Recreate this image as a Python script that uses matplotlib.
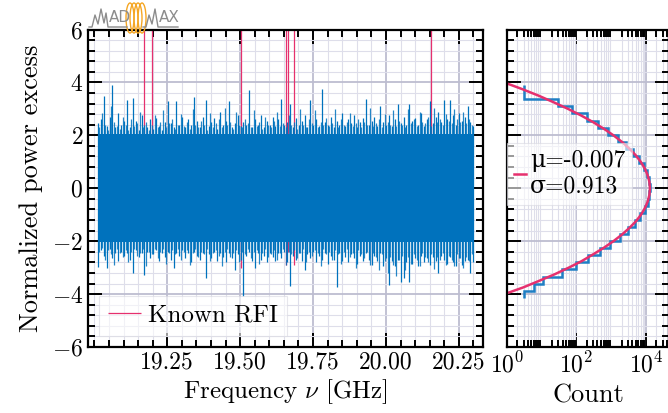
import numpy as np
import matplotlib
matplotlib.use("Agg")
import matplotlib.pyplot as plt
from matplotlib.ticker import MultipleLocator, AutoMinorLocator, LogLocator, FixedLocator, NullFormatter
from matplotlib.patches import Ellipse
from matplotlib.lines import Line2D

plt.rcParams['font.family'] = ['cmr10', 'DejaVu Serif']
plt.rcParams['mathtext.fontset'] = 'cm'
plt.rcParams['axes.formatter.use_mathtext'] = True
plt.rcParams['font.size'] = 17

BLUE = '#0072BD'
PINK = '#E6306E'

# --- data ---
freq_start, freq_stop = 19.012, 20.300
# upper / lower extremes of the noise trace, one value per ~0.01 GHz
upper = [2.45, 2.6, 3.5, 2.35, 2.7, 3.9, 2.3, 2.85, 2.4, 2.55,
         3.33, 2.3, 3.4, 2.55, 2.2, 2.75, 2.4, 2.3, 2.6, 2.25,
         2.65, 2.35, 2.2, 2.5, 3.3, 2.45, 2.3, 3.3, 2.4, 2.7,
         2.3, 2.6, 2.4, 3.45, 2.55, 2.3, 2.7, 3.35, 2.35, 2.5,
         2.65, 2.25, 2.9, 2.4, 2.55, 3.28, 2.3, 2.45, 2.75, 2.35,
         2.5, 2.4, 3.7, 2.3, 2.6, 2.4, 2.75, 2.3, 2.55, 2.4,
         2.7, 2.35, 2.6, 3.37, 2.4, 2.5, 3.18, 2.3, 2.65, 2.4,
         2.55, 2.75, 2.3, 3.33, 2.4, 2.6, 2.35, 3.75, 2.5, 2.4,
         2.7, 2.3, 2.55, 2.4, 2.85, 2.35, 2.6, 2.45, 2.75, 2.3,
         2.5, 2.65, 3.38, 2.4, 2.55, 2.7, 2.35, 3.1, 2.5, 2.4,
         2.75, 2.35, 2.6, 3.2, 2.45, 2.7, 2.4, 3.2, 2.55, 2.65,
         2.4, 2.85, 2.35, 2.6, 3.3, 2.45, 2.7, 2.9, 2.5, 3.35,
         2.6, 3.33, 2.75, 2.4, 2.85, 2.55, 2.7, 3.1, 2.5, 2.35]
lower = [-2.96, -2.35, -2.55, -3.0, -2.3, -2.65, -2.45, -2.75, -2.4, -2.55,
         -2.45, -2.7, -3.2, -2.35, -2.6, -2.45, -3.28, -2.4, -2.65, -2.5,
         -2.35, -2.75, -2.45, -2.6, -2.4, -2.7, -3.0, -2.45, -2.55, -2.35,
         -2.65, -2.45, -2.8, -2.4, -2.55, -2.7, -2.45, -3.4, -2.5, -2.65,
         -2.4, -2.75, -2.45, -2.6, -2.8, -2.45, -2.65, -3.1, -2.5, -2.7,
         -4.09, -2.55, -2.4, -2.75, -3.0, -2.45, -2.7, -2.55, -2.8, -2.45,
         -2.6, -2.75, -2.45, -2.65, -2.4, -2.8, -3.7, -2.55, -2.7, -2.45,
         -2.75, -3.1, -2.5, -2.65, -2.4, -2.8, -2.55, -2.7, -2.45, -2.85,
         -2.55, -2.7, -3.72, -2.45, -2.75, -2.6, -2.8, -2.5, -2.65, -2.85,
         -2.55, -2.75, -2.45, -2.7, -2.9, -2.55, -2.75, -2.45, -2.95, -2.65,
         -3.65, -2.75, -2.95, -2.7, -3.55, -3.4, -2.8, -3.55, -2.85, -2.65,
         -2.95, -2.55, -2.8, -2.65, -2.9, -2.6, -2.75, -3.2, -2.55, -2.7,
         -2.85, -2.6, -2.8, -2.95, -2.65, -2.9, -2.75, -2.7, -3.2, -2.8]
# extremes half-way between the points above
upper_mid = [2.3, 2.85, 2.4, 2.2, 3.1, 2.5, 2.35, 2.25, 2.7, 2.4,
             2.2, 2.6, 2.35, 2.45, 2.9, 2.3, 2.5, 2.2, 2.4, 2.75,
             2.3, 2.5, 2.95, 2.3, 2.45, 2.6, 2.25, 2.4, 2.8, 2.35,
             2.5, 2.25, 3.0, 2.4, 2.3, 2.55, 2.4, 2.2, 2.85, 2.3,
             2.45, 2.6, 2.3, 3.05, 2.4, 2.5, 2.25, 2.9, 2.4, 2.3,
             2.6, 2.45, 2.3, 2.95, 2.35, 2.5, 2.25, 2.7, 2.4, 2.3,
             2.55, 2.9, 2.35, 2.45, 2.3, 2.75, 2.4, 2.5, 2.25, 3.0,
             2.4, 2.3, 2.6, 2.45, 2.95, 2.3, 2.5, 2.4, 2.65, 2.35,
             2.45, 3.0, 2.3, 2.6, 2.4, 2.5, 2.85, 2.35, 2.45, 2.6,
             2.3, 2.5, 2.4, 3.05, 2.35, 2.45, 2.6, 2.3, 2.8, 2.5,
             2.4, 2.95, 2.35, 2.55, 2.4, 2.3, 3.0, 2.45, 2.6, 2.35,
             2.9, 2.5, 2.45, 2.7, 2.35, 3.05, 2.5, 2.6, 2.4, 2.8,
             2.55, 2.45, 3.0, 2.6, 2.5, 2.9, 2.45, 2.6, 2.4]
lower_mid = [-2.4, -2.25, -2.7, -2.35, -2.5, -2.9, -2.3, -2.45, -2.6, -2.35,
             -2.8, -2.4, -2.3, -2.55, -2.45, -2.3, -2.95, -2.4, -2.5, -2.3,
             -2.65, -2.4, -2.3, -2.85, -2.45, -2.35, -2.5, -2.3, -2.7, -2.4,
             -2.35, -2.9, -2.45, -2.3, -2.6, -2.4, -2.5, -2.3, -2.75, -2.45,
             -2.35, -2.55, -2.95, -2.4, -2.3, -2.6, -2.45, -2.35, -2.8, -2.4,
             -2.5, -2.3, -2.65, -2.4, -2.35, -2.85, -2.45, -2.3, -2.6, -2.5,
             -2.35, -2.7, -2.45, -2.3, -2.9, -2.4, -2.5, -2.35, -2.65, -2.45,
             -2.3, -2.8, -2.4, -2.55, -2.35, -2.45, -2.95, -2.3, -2.5, -2.4,
             -2.7, -2.35, -2.5, -2.85, -2.4, -2.3, -2.6, -2.45, -3.0, -2.35,
             -2.5, -2.65, -2.4, -2.9, -2.45, -2.6, -3.1, -2.5, -2.75, -3.2,
             -2.6, -2.9, -3.3, -2.7, -2.55, -3.1, -2.6, -2.85, -2.5, -2.7,
             -2.95, -2.45, -2.6, -2.8, -2.5, -3.05, -2.6, -2.7, -2.45, -2.9,
             -2.55, -2.7, -2.95, -2.5, -2.65, -3.0, -2.6, -2.75, -2.5]
core_lo, core_hi = -2.02, 2.05

rfi_freq = [19.170, 19.199, 19.503, 19.658, 19.664, 19.685, 20.154]
rfi_low = [-2.0, -2.0, -3.0, -2.9, -2.4, -2.9, -2.0]
rfi_high = 7.0

# histogram of the normalized excess
hist_edges = np.linspace(-4.14, 3.90, 31)
hist_counts = [3, 6, 11, 38, 100, 220, 480, 950, 1750, 3000,
               4700, 6800, 9100, 11100, 12500, 13000, 12400, 10800, 8700, 6400,
               4300, 2700, 1550, 820, 430, 195, 72, 30, 3, 3]

# gaussian fit curve (count vs. excess), read at 0.25 steps
fit_y = [-4.0, -3.75, -3.5, -3.25, -3.0, -2.75, -2.5, -2.25, -2.0, -1.75, -1.5,
         -1.25, -1.0, -0.75, -0.5, -0.25, 0.0, 0.25, 0.5, 0.75, 1.0, 1.25,
         1.5, 1.75, 2.0, 2.25, 2.5, 2.75, 3.0, 3.25, 3.5, 3.75, 4.0]
fit_count = [0.85, 2.9, 8.4, 23.7, 60, 143, 300, 612, 1160, 2040, 3330,
             5140, 7200, 9340, 11240, 12550, 13000, 12500, 11140, 9220, 7080, 5040,
             3330, 2040, 1160, 612, 300, 136, 57, 22, 8.1, 2.7, 0.83]
mu, sigma = -0.007, 0.913

freq = np.linspace(freq_start, freq_stop, len(upper))
freq_mid = (freq[:-1] + freq[1:]) / 2

W, H = 668, 413
fig = plt.figure(figsize=(W / 100, H / 100), dpi=100)
ax = fig.add_axes([88 / W, 1 - 347 / H, (483 - 88) / W, (347 - 29.5) / H])
axh = fig.add_axes([507 / W, 1 - 347 / H, (669 - 507) / W, (347 - 29.5) / H], sharey=ax)


def style(a):
    a.set_axisbelow(True)
    a.grid(which='major', color='#bdbdd0', lw=1.3)
    a.grid(which='minor', color='#dedeea', lw=0.8)
    a.tick_params(which='both', direction='in', top=True, right=True, width=1.4)
    a.tick_params(which='major', length=10)
    a.tick_params(which='minor', length=5)
    for s in a.spines.values():
        s.set_linewidth(1.6)


# spectrum
ax.vlines(rfi_freq, rfi_low, rfi_high, color=PINK, lw=0.9, zorder=1.5, label='Known RFI')
ax.fill_between([freq_start, freq_stop], core_lo, core_hi, color=BLUE, lw=0, zorder=2)
ax.vlines(freq, lower, upper, color=BLUE, lw=0.9, zorder=2)
ax.vlines(freq_mid, lower_mid, upper_mid, color=BLUE, lw=0.9, zorder=2, alpha=0.85)
ax.set_xlim(18.978, 20.333)
ax.set_ylim(-6, 6)
ax.xaxis.set_minor_locator(MultipleLocator(0.05))
ax.yaxis.set_major_locator(MultipleLocator(2))
ax.yaxis.set_minor_locator(AutoMinorLocator(5))
ax.set_xticks([19.25, 19.5, 19.75, 20.0, 20.25])
ax.set_xticklabels(['19.25', '19.50', '19.75', '20.00', '20.25'])
style(ax)
ax.set_xlabel(r'Frequency $\nu$ [GHz]', fontsize=18, labelpad=2)
ax.set_ylabel('Normalized power excess', fontsize=19, labelpad=6)
leg = ax.legend(loc='lower left', handlelength=1.3, handletextpad=0.3,
                fancybox=False, framealpha=0.6, edgecolor='#d8d8e0',
                borderaxespad=0.45, borderpad=0.35, fontsize=18)
leg.get_frame().set_linewidth(0.8)

# histogram
axh.stairs(hist_counts, hist_edges, orientation='horizontal', baseline=None,
           color='#1f7fc4', lw=1.8)
axh.plot(fit_count, fit_y, color=PINK, lw=1.8,
         label='\u03bc=%.3f\n\u03c3=%.3f' % (mu, sigma))
axh.set_xscale('log')
axh.set_xlim(1, 4.6e4)
axh.xaxis.set_major_locator(FixedLocator([1, 1e2, 1e4]))
axh.xaxis.set_minor_locator(LogLocator(base=10, subs=np.arange(2, 10), numticks=20))
axh.xaxis.set_minor_formatter(NullFormatter())
style(axh)
axh.tick_params(labelleft=False)
axh.set_xlabel('Count', fontsize=19, labelpad=5)
leg2 = axh.legend(loc='center left', bbox_to_anchor=(-0.02, 0.545), handlelength=0.5,
                  handletextpad=0.15, fancybox=False, framealpha=0.6,
                  edgecolor='#d8d8e0', borderpad=0.3, borderaxespad=0.15)
leg2.get_frame().set_linewidth(0.8)

# MADMAX logo
def px(x, y):
    return x / W, 1 - y / H

gray = '#8c8c8c'
wave_l = [(89, 27), (92, 27), (95, 15), (98, 24), (101, 9), (104, 23), (106, 13), (108, 27), (127, 27)]
wave_r = [(143, 27), (146, 27), (149, 15), (152, 24), (155, 9), (158, 27), (178, 27)]
for wave in (wave_l, wave_r):
    xs, ys = zip(*[px(*p) for p in wave])
    fig.add_artist(Line2D(xs, ys, color=gray, lw=1.0, transform=fig.transFigure))
fig.text(*px(109, 25), 'AD', color=gray, fontsize=11, family='DejaVu Sans', va='bottom')
fig.text(*px(159, 25), 'AX', color=gray, fontsize=11, family='DejaVu Sans', va='bottom')
for cx in (130, 134, 138, 142):
    fig.add_artist(Ellipse(px(cx, 18), 8 / W, 30 / H, fill=False, ec='#F5A623',
                           lw=1.0, transform=fig.transFigure))

fig.savefig('out.png', dpi=100)
